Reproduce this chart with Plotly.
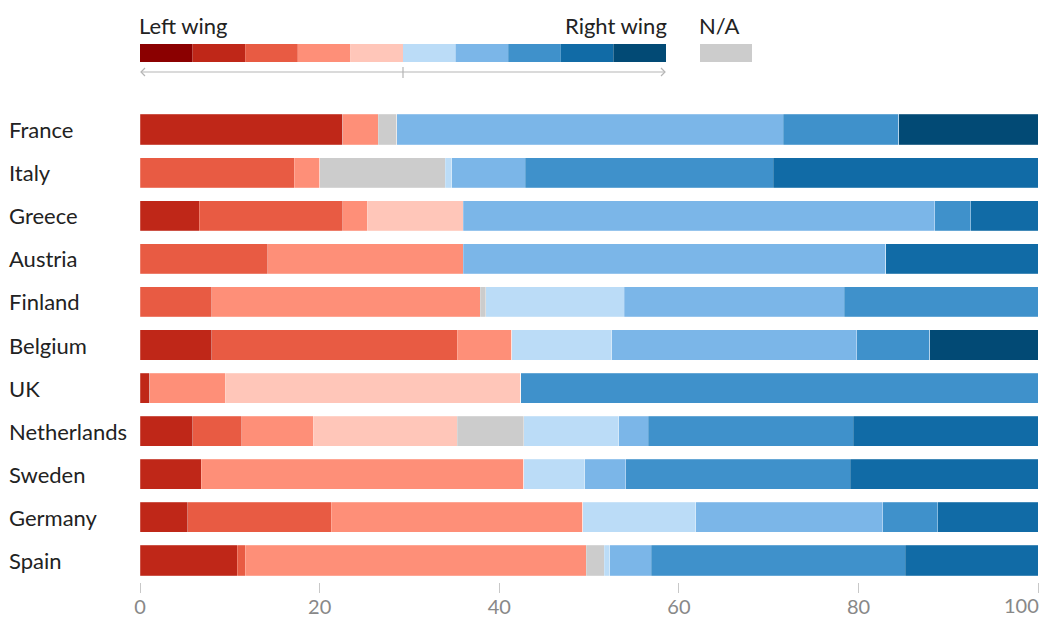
import plotly.graph_objects as go

countries = ["France", "Italy", "Greece", "Austria", "Finland", "Belgium", "UK",
             "Netherlands", "Sweden", "Germany", "Spain"]

# share of seats per political position, left (1) to right (10), plus N/A
left_1 = [0, 0, 0, 0, 0, 0, 0, 0, 0, 0, 0]
left_2 = [22.6, 0, 6.6, 0, 0, 8.0, 1.1, 5.9, 6.8, 5.3, 10.8]
left_3 = [0, 17.2, 16.0, 14.2, 8.0, 27.3, 0, 5.4, 0, 16.0, 0.9]
left_4 = [3.9, 2.8, 2.7, 21.8, 29.9, 6.1, 8.4, 8.0, 35.9, 28.0, 38.0]
left_5 = [0, 0, 10.7, 0, 0, 0, 32.9, 16.0, 0, 0, 0]
not_available = [2.1, 14.0, 0, 0, 0.6, 0, 0, 7.4, 0, 0, 2.0]
right_6 = [0, 0.7, 0, 0, 15.4, 11.1, 0, 10.6, 6.8, 12.6, 0.6]
right_7 = [43.0, 8.2, 52.5, 47.0, 24.5, 27.3, 0, 3.3, 4.6, 20.8, 4.6]
right_8 = [12.9, 27.6, 4.0, 0, 21.6, 8.1, 57.6, 22.8, 25.0, 6.1, 28.3]
right_9 = [0, 29.5, 7.5, 17.0, 0, 0, 0, 20.6, 20.9, 11.2, 14.8]
right_10 = [15.5, 0, 0, 0, 0, 12.1, 0, 0, 0, 0, 0]

tick_values = [0, 20, 40, 60, 80, 100]
tick_labels = ["0", "20", "40", "60", "80", ""]
last_tick_label = "100"

scale_colors = ["#8b0000", "#bf2718", "#e85b43", "#fe8f78", "#ffc6b9",
                "#bbdcf7", "#7bb6e8", "#3f91cb", "#116ba6", "#024a75"]
na_color = "#cccccc"

series = [
    (left_1, scale_colors[0]), (left_2, scale_colors[1]), (left_3, scale_colors[2]),
    (left_4, scale_colors[3]), (left_5, scale_colors[4]), (not_available, na_color),
    (right_6, scale_colors[5]), (right_7, scale_colors[6]), (right_8, scale_colors[7]),
    (right_9, scale_colors[8]), (right_10, scale_colors[9]),
]

FONT = "Lato"
FS = 22
TICK_FS = 20

fig = go.Figure()
for vals, col in series:
    fig.add_trace(go.Bar(
        y=countries, x=vals, orientation="h",
        marker=dict(color=col, line=dict(color="rgba(255,255,255,0.35)", width=0.6)),
        showlegend=False, hoverinfo="x+y",
    ))

# plot area (page pixels): x 140..1040, y 108..582
W, H = 1042, 619
L, R, T, B = 140, 2, 108, 37
pw = W - L - R
ph = H - T - B


def px(x):
    return (x - L) / pw


def py(y):
    return (H - B - y) / ph


shapes = []
# legend colour scale
n = len(scale_colors)
x0, x1 = 140, 666
step = (x1 - x0) / n
for i, c in enumerate(scale_colors):
    shapes.append(dict(type="rect", xref="paper", yref="paper",
                       x0=px(x0 + i * step), x1=px(x0 + (i + 1) * step),
                       y0=py(62), y1=py(44), fillcolor=c, line=dict(width=0), layer="above"))
shapes.append(dict(type="rect", xref="paper", yref="paper",
                   x0=px(700), x1=px(752), y0=py(62), y1=py(44),
                   fillcolor=na_color, line=dict(width=0), layer="above"))
# double-headed arrow under the scale
lc = "#b5b5b5"
shapes.append(dict(type="line", xref="paper", yref="paper",
                   x0=px(141), x1=px(665), y0=py(72), y1=py(72), line=dict(color=lc, width=1.2)))
shapes.append(dict(type="line", xref="paper", yref="paper",
                   x0=px(403), x1=px(403), y0=py(67), y1=py(78), line=dict(color=lc, width=1.2)))
shapes.append(dict(type="path", xref="paper", yref="paper",
                   path=f"M {px(145)},{py(68)} L {px(141)},{py(72)} L {px(145)},{py(76)}",
                   line=dict(color=lc, width=1.2)))
shapes.append(dict(type="path", xref="paper", yref="paper",
                   path=f"M {px(661)},{py(68)} L {px(665)},{py(72)} L {px(661)},{py(76)}",
                   line=dict(color=lc, width=1.2)))

txt_font = dict(family=FONT, size=FS, color="#222")
annotations = [
    dict(text="Left wing", xref="paper", yref="paper", x=px(137), y=py(25),
         xanchor="left", yanchor="middle", showarrow=False, font=txt_font),
    dict(text="Right wing", xref="paper", yref="paper", x=px(669), y=py(25),
         xanchor="right", yanchor="middle", showarrow=False, font=txt_font),
    dict(text="N/A", xref="paper", yref="paper", x=px(697), y=py(25),
         xanchor="left", yanchor="middle", showarrow=False, font=txt_font),
    dict(text=last_tick_label, xref="x", yref="paper", x=tick_values[-1], y=py(605),
         xanchor="right", yanchor="middle", showarrow=False, xshift=3,
         font=dict(family=FONT, size=TICK_FS, color="#888")),
]
for c in countries:
    annotations.append(dict(text=c, xref="paper", yref="y", x=px(7), y=c,
                            xanchor="left", yanchor="middle", showarrow=False, font=txt_font))

fig.update_layout(
    barmode="stack", bargap=0.3,
    width=W, height=H,
    margin=dict(l=L, r=R, t=T, b=B, pad=0, autoexpand=False),
    plot_bgcolor="white", paper_bgcolor="white",
    font=dict(family=FONT),
    shapes=shapes, annotations=annotations,
    xaxis=dict(range=[0, 100.2], tickvals=tick_values, ticktext=tick_labels, showgrid=False,
               zeroline=False, showline=False, ticks="outside", ticklen=10,
               tickcolor="#c8c8c8", tickwidth=1, automargin=False, ticklabelstandoff=-3,
               tickfont=dict(family=FONT, size=TICK_FS, color="#888")),
    yaxis=dict(categoryorder="array", categoryarray=countries, autorange="reversed",
               showticklabels=False, showgrid=False, zeroline=False, showline=False,
               automargin=False),
)

fig.write_html("out.html", config={"displayModeBar": False},
               post_script="document.body.style.margin='0px';")
